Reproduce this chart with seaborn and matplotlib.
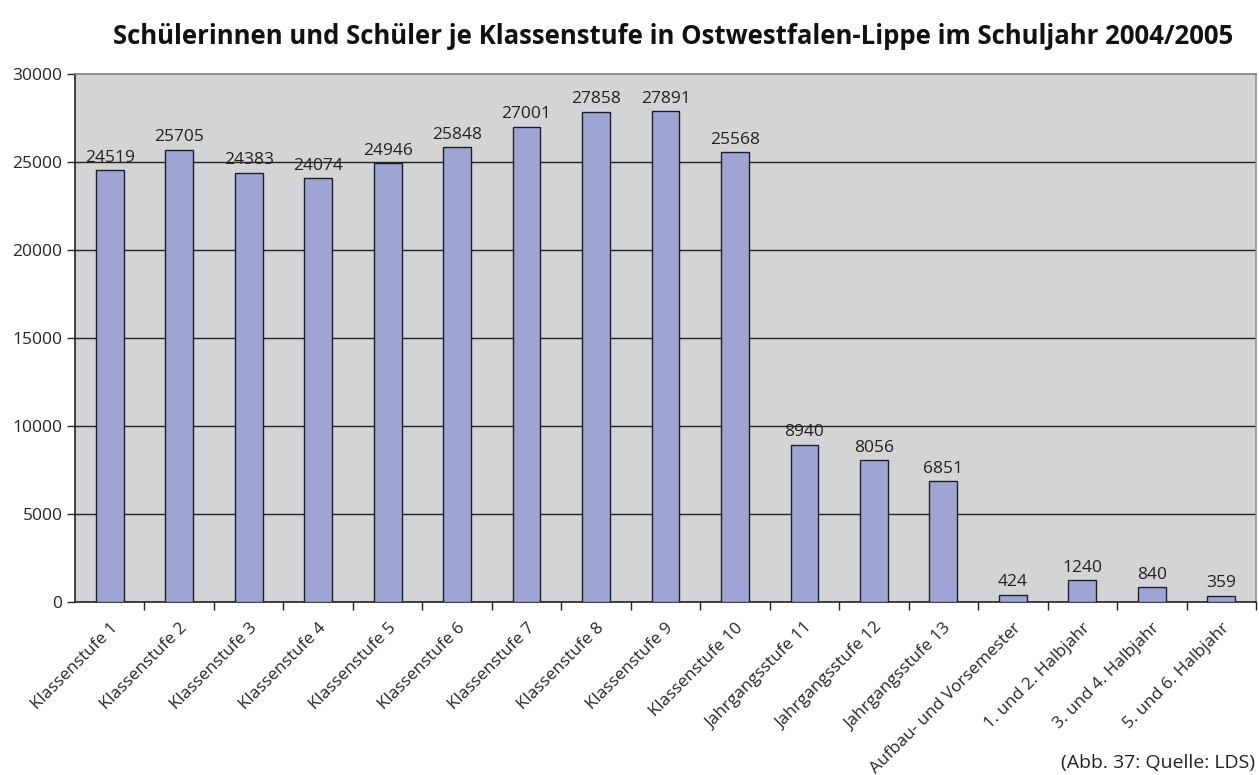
import matplotlib
matplotlib.use("Agg")
import matplotlib.pyplot as plt
import seaborn as sns
import pandas as pd

categories = [
    "Klassenstufe 1", "Klassenstufe 2", "Klassenstufe 3", "Klassenstufe 4",
    "Klassenstufe 5", "Klassenstufe 6", "Klassenstufe 7", "Klassenstufe 8",
    "Klassenstufe 9", "Klassenstufe 10", "Jahrgangsstufe 11", "Jahrgangsstufe 12",
    "Jahrgangsstufe 13", "Aufbau- und Vorsemester", "1. und 2. Halbjahr",
    "3. und 4. Halbjahr", "5. und 6. Halbjahr",
]
values = [24519, 25705, 24383, 24074, 24946, 25848, 27001, 27858, 27891,
          25568, 8940, 8056, 6851, 424, 1240, 840, 359]
y_ticks = [0, 5000, 10000, 15000, 20000, 25000, 30000]

title = "Schülerinnen und Schüler je Klassenstufe in Ostwestfalen-Lippe im Schuljahr 2004/2005"
source = "(Abb. 37: Quelle: LDS)"

df = pd.DataFrame({"stufe": categories, "anzahl": values})

sns.set_theme(style="white")
plt.rcParams["font.family"] = ["Open Sans", "DejaVu Sans"]

fig = plt.figure(figsize=(12.59, 7.75), dpi=100)
ax = fig.add_axes([75 / 1259, 1 - 602 / 775, (1256 - 75) / 1259, (602 - 74) / 775])
ax.set_facecolor("#D3D4D6")

sns.barplot(data=df, x="stufe", y="anzahl", color="#9FA5D2", width=0.4,
            edgecolor="#1E1E2A", linewidth=1.0, saturation=1, ax=ax, zorder=3)

ax.set_ylim(0, 30000)
ax.set_xlim(-0.5, len(categories) - 0.5)
ax.set_yticks(y_ticks)
ax.set_yticklabels([str(t) for t in y_ticks], fontsize=12.5)
for t in y_ticks[1:-1]:
    ax.axhline(t, color="#222222", linewidth=1.0, zorder=1)

ax.set_xticks([i - 0.5 for i in range(1, len(categories) + 1)], minor=True)
ax.set_xticks(range(len(categories)))
ax.set_xticklabels(categories, rotation=45, ha="right", rotation_mode="anchor", fontsize=12.3)
ax.tick_params(axis="x", which="major", length=0, pad=13)
ax.tick_params(axis="x", which="minor", length=6, width=1, color="#222222", direction="out", bottom=True)
ax.tick_params(axis="y", length=6, width=1, color="#222222", direction="out", left=True, pad=3)
ax.set_xlabel("")
ax.set_ylabel("")

for name, sp in ax.spines.items():
    sp.set_visible(True)
    sp.set_linewidth(1.2)
ax.spines["left"].set_color("#222222")
ax.spines["bottom"].set_color("#222222")
ax.spines["top"].set_color("#808080")
ax.spines["right"].set_color("#909090")

for i, v in enumerate(values):
    ax.text(i, v + 250, str(v), ha="center", va="bottom", fontsize=12.5, color="#222222", zorder=4)

fig.text(673 / 1259, 1 - 37 / 775, title, ha="center", va="center",
         fontsize=18.5, fontweight="bold", color="#111111")
fig.text(1255 / 1259, 1 - 772 / 775, source, ha="right", va="bottom", fontsize=14, color="#222222")

fig.savefig("out.png", dpi=100)
